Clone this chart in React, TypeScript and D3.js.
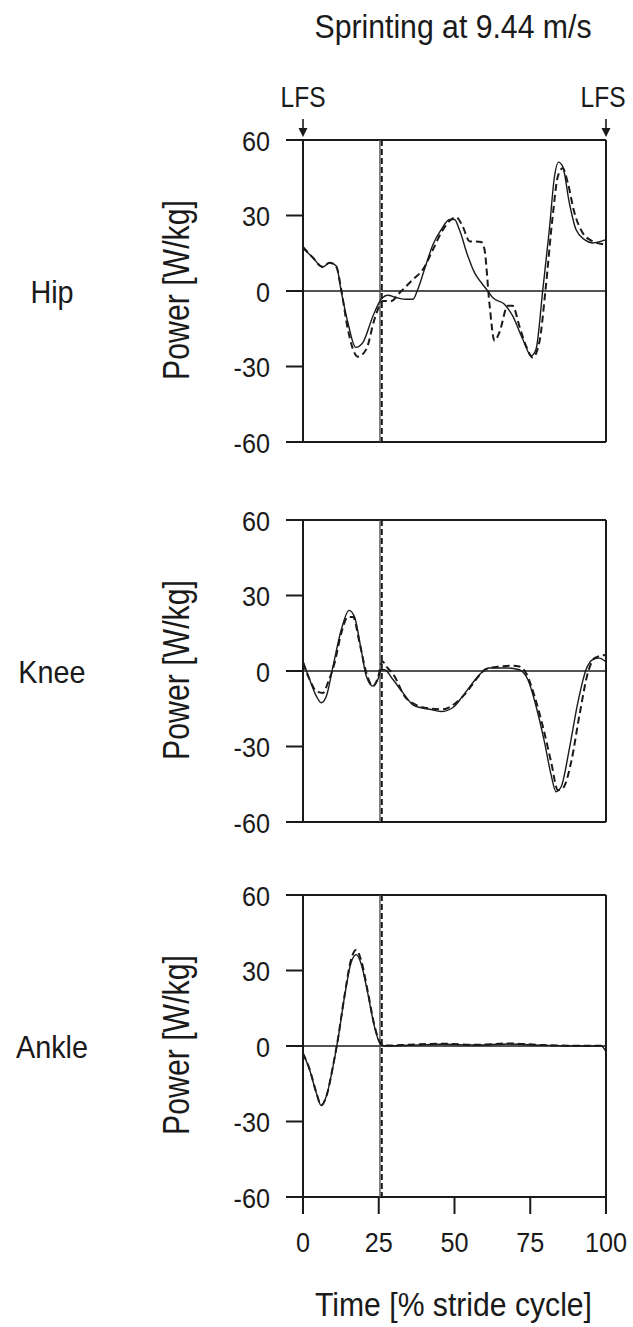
import React from 'react';
import * as d3 from 'd3';

type Pt = [number, number];

const titleText = 'Sprinting at 9.44 m/s';
const eventLabel = 'LFS';
const jointNames = ['Hip', 'Knee', 'Ankle'];
const yAxisTitle = 'Power [W/kg]';
const xAxisTitle = 'Time [% stride cycle]';
const yTicks = [-60, -30, 0, 30, 60];
const xTicks = [0, 25, 50, 75, 100];
const eventMarks = [0, 100];
const toeOffSolid = 25.4;
const toeOffDashed = 26.0;

const hipSolid: Pt[] = [[0,17],[3.3,13.2],[6.4,9.5],[8.8,11.2],[11,9.9],[12.6,0],[14.8,-12.5],[17.4,-22.4],[19.8,-20.4],[23.1,-9.9],[25.8,-3.3],[28,-1.7],[30.8,-2.6],[34,-3.3],[36.3,-3.3],[37.9,0.7],[40.1,8.6],[42.9,18.5],[45.6,24.4],[48.4,28.4],[50,28.4],[51.6,24.4],[54.4,13.9],[56.6,7.3],[59.3,2.6],[61,0],[62.6,-2.6],[66.5,-5.3],[69.2,-9.9],[72.5,-19.1],[75.3,-25.7],[76.9,-23.1],[79.1,0],[81.3,24.4],[83,45.5],[84.3,51.2],[85.7,49.5],[87.9,35],[90.1,24.4],[92.9,20.4],[95.6,19.1],[99.8,20.3]];
const hipDashed: Pt[] = [[0,17.5],[3.3,13.2],[6.4,9.6],[8.8,11.2],[11,9.6],[12.6,0.7],[14.8,-15.2],[18.1,-26.1],[20.9,-23.1],[23.6,-11.2],[26.4,-4],[29.1,-4],[31.9,-0.7],[36.3,4.6],[39.6,8.6],[42.9,16.5],[46.2,24.4],[48.9,28.4],[50.5,29.3],[52.7,25.7],[54.9,19.8],[58.8,19.5],[59.9,16.5],[61.5,-4.6],[63.2,-19.8],[64.8,-16.5],[67.6,-5.9],[69.2,-5.9],[71.4,-13.9],[73.6,-21.8],[75.8,-26.4],[78,-20.4],[80,0],[82.4,29.7],[84.1,45.5],[85.7,48.8],[87.4,42.9],[89.6,31],[92.3,23.1],[95.6,19.8],[99.8,18.5]];
const kneeSolid: Pt[] = [[0,4],[2.2,-3.4],[4.4,-10],[6,-12.6],[7.7,-10],[9.9,1.8],[12.6,16.3],[15.2,24.1],[17,21.5],[19.2,8.4],[20.9,-2.1],[23.1,-6],[24.7,-3.4],[25.8,0.5],[26.9,0.5],[29.7,-3.4],[33,-8.7],[36.8,-13.9],[41.8,-15.2],[45.6,-16.1],[49.5,-14.5],[52.7,-10],[56,-4.7],[58.8,-0.8],[61.5,1.2],[67,1.2],[71.4,0.5],[74.2,-3.4],[76.9,-13.9],[79.7,-28.3],[81.9,-41.4],[83.5,-48],[85.2,-46],[87.9,-30.9],[90.7,-12.6],[93.4,0.5],[95.6,4.5],[97.8,5.1],[99.8,3.8]];
const kneeDashed: Pt[] = [[0,3.2],[2.2,-3.4],[4.4,-8],[6.6,-8.7],[8.2,-4.7],[10.4,3.1],[12.6,14.9],[14.8,21.5],[16.5,21.5],[18.7,11],[20.9,-0.8],[23.1,-6],[24.7,-2.8],[26.2,3.8],[27.5,1.8],[30.2,-2.1],[33.5,-10],[36.8,-13.2],[41.8,-14.9],[46.2,-15.2],[50.5,-12.6],[53.8,-8.7],[57.1,-3.4],[60.4,0.8],[64.8,1.8],[69.2,2.1],[71.4,1.8],[73.6,-0.8],[76.4,-10],[79.1,-21.8],[81.9,-36.2],[84.1,-47.3],[85.7,-46.7],[88.5,-36.2],[91.2,-17.8],[94,-0.8],[96.2,5.1],[99.8,6.4]];
const ankleSolid: Pt[] = [[0,-3],[2.2,-9.5],[4.4,-18.7],[6,-23.7],[7.7,-20],[9.9,-8.2],[11.5,2.4],[13.7,19.5],[15.9,33.3],[17.6,36.3],[19.2,32.6],[21.4,20.8],[23.6,7.6],[25.8,0.4],[27.5,0],[35,0.3],[46,0.7],[57,0.4],[68,0.8],[79,0.3],[90,0],[98.4,0],[99.8,-1.8]];
const ankleDashed: Pt[] = [[0,-3],[2.2,-9.3],[4.4,-18.5],[6,-23.5],[7.7,-20],[9.9,-8],[11.5,2.6],[13.7,20],[15.9,34.5],[17.6,38.2],[19.2,34],[21.4,21.5],[23.6,8],[25.8,0.8],[27.5,0.2],[35,0.5],[46,0.9],[57,0.5],[68,1],[79,0.4],[90,0.1],[98.4,0.1],[99.8,-1.5]];

const solidSeries = [hipSolid, kneeSolid, ankleSolid];
const dashedSeries = [hipDashed, kneeDashed, ankleDashed];

const W = 633;
const H = 1327;
const FONT = "'Liberation Sans', Arial, sans-serif";
const INK = '#1a1a1a';
const panelTops = [140, 520, 895];
const panelH = 302;
const left = 303;
const right = 606;
const tickLen = 17;
const narrow = 0.9;

function NText(props: { x: number; y: number; anchor: string; size: number; children: React.ReactNode }) {
  return (
    <text
      transform={`translate(${props.x},${props.y}) scale(${narrow},1)`}
      textAnchor={props.anchor}
      fontFamily={FONT}
      fontSize={props.size}
      fill={INK}
    >
      {props.children}
    </text>
  );
}

export default function App() {
  const x = d3.scaleLinear().domain([0, 100]).range([left, right]);

  const panels = jointNames.map((name, i) => {
    const top = panelTops[i];
    const y = d3.scaleLinear().domain([-60, 60]).range([top + panelH, top]);
    const line = d3
      .line<Pt>()
      .x((d) => x(d[0]))
      .y((d) => y(d[1]))
      .curve(d3.curveMonotoneX);
    const isLast = i === jointNames.length - 1;
    return (
      <g key={name}>
        <line x1={left} x2={right} y1={top} y2={top} stroke={INK} strokeWidth={2} />
        <line x1={left} x2={right} y1={top + panelH} y2={top + panelH} stroke={INK} strokeWidth={2} />
        <line x1={left} x2={left} y1={top} y2={top + panelH} stroke={INK} strokeWidth={2} />
        <line x1={right} x2={right} y1={top} y2={top + panelH} stroke={INK} strokeWidth={2} />
        <line x1={left} x2={right} y1={y(0)} y2={y(0)} stroke={INK} strokeWidth={1.6} />
        {yTicks.map((t) => (
          <g key={t}>
            <line x1={left - tickLen} x2={left} y1={y(t)} y2={y(t)} stroke={INK} strokeWidth={2} />
            <NText x={270} y={y(t) + 10.5} anchor="end" size={28}>
              {t}
            </NText>
          </g>
        ))}
        {isLast &&
          xTicks.map((t) => (
            <g key={t}>
              <line x1={x(t)} x2={x(t)} y1={top + panelH} y2={top + panelH + tickLen} stroke={INK} strokeWidth={2} />
              <NText x={x(t)} y={1252} anchor="middle" size={28}>
                {t}
              </NText>
            </g>
          ))}
        <line x1={x(toeOffSolid)} x2={x(toeOffSolid)} y1={top} y2={top + panelH} stroke="#555" strokeWidth={1.4} />
        <line
          x1={x(toeOffDashed)}
          x2={x(toeOffDashed)}
          y1={top}
          y2={top + panelH}
          stroke={INK}
          strokeWidth={2}
          strokeDasharray="6,3"
        />
        <path d={line(solidSeries[i]) || ''} fill="none" stroke={INK} strokeWidth={1.4} />
        <path
          d={line(dashedSeries[i]) || ''}
          fill="none"
          stroke={INK}
          strokeWidth={2}
          strokeDasharray="7,4"
        />
        <NText x={52} y={y(0) + 12} anchor="middle" size={32}>
          {name}
        </NText>
        <text
          transform={`translate(189,${y(0) - 1}) rotate(-90)`}
          textAnchor="middle"
          fontFamily={FONT}
          fontSize={36}
          textLength={180}
          lengthAdjust="spacingAndGlyphs"
          fill={INK}
        >
          {yAxisTitle}
        </text>
      </g>
    );
  });

  return (
    <svg
      width={W}
      height={H}
      viewBox={`0 0 ${W} ${H}`}
      style={{ position: 'absolute', left: 0, top: 0, background: '#fff' }}
    >
      <rect x={0} y={0} width={W} height={H} fill="#fff" />
      <text
        x={453}
        y={38}
        textAnchor="middle"
        fontFamily={FONT}
        fontSize={34}
        textLength={277}
        lengthAdjust="spacingAndGlyphs"
        fill={INK}
      >
        {titleText}
      </text>
      {eventMarks.map((m, k) => (
        <g key={m}>
          <text
            x={x(m) - (k === eventMarks.length - 1 ? 3 : 0)}
            y={107}
            textAnchor="middle"
            fontFamily={FONT}
            fontSize={29}
            textLength={45}
            lengthAdjust="spacingAndGlyphs"
            fill={INK}
          >
            {eventLabel}
          </text>
          <line x1={x(m)} x2={x(m)} y1={119} y2={130} stroke={INK} strokeWidth={1.6} />
          <path d={`M${x(m) - 4.5},128 L${x(m) + 4.5},128 L${x(m)},137 Z`} fill={INK} />
        </g>
      ))}
      {panels}
      <text
        x={453.5}
        y={1316}
        textAnchor="middle"
        fontFamily={FONT}
        fontSize={34}
        textLength={277}
        lengthAdjust="spacingAndGlyphs"
        fill={INK}
      >
        {xAxisTitle}
      </text>
    </svg>
  );
}
